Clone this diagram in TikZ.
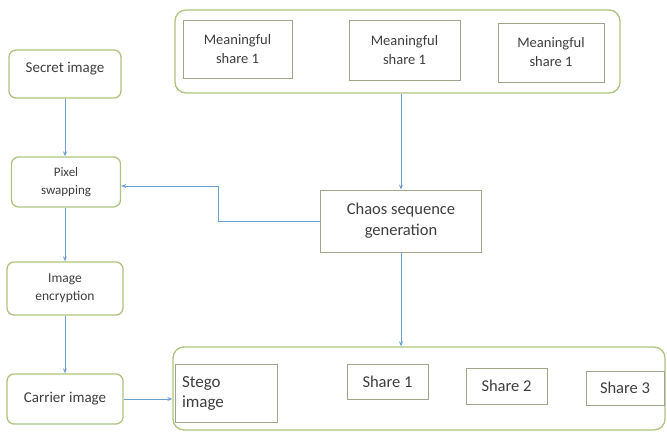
\documentclass[tikz,border=0pt]{standalone}
\usepackage{fontspec}
\setmainfont{Carlito}
\usetikzlibrary{arrows.meta}
\definecolor{boxgreen}{RGB}{172,196,128}
\definecolor{innergray}{RGB}{158,166,138}
\definecolor{arrowblue}{RGB}{110,158,210}
\definecolor{txtgray}{RGB}{62,62,62}
\begin{document}
\begin{tikzpicture}[
  x=1pt, y=-1pt,
  stepnode/.style={draw=boxgreen, line width=1.3pt, rounded corners=7pt, align=center,
    text=txtgray, inner sep=2pt},
  groupbox/.style={draw=boxgreen, line width=1.3pt, rounded corners=11pt},
  sharebox/.style={draw=innergray, line width=0.9pt, align=center, text=txtgray, inner sep=2pt},
  arr/.style={draw=arrowblue, line width=0.9pt, -{Stealth[length=5pt,width=4pt]}},
]
  \useasboundingbox (0,0) rectangle (667,432);

  \node[stepnode, minimum width=112pt, minimum height=48pt, font=\fontsize{15}{16}\selectfont] (secret) at (65, 74) {Secret image\\[-2pt]};
  \node[stepnode, minimum width=109pt, minimum height=50pt, font=\fontsize{13}{18}\selectfont] (pixel) at (66, 182) {Pixel\\swapping};
  \node[stepnode, minimum width=116pt, minimum height=53pt, font=\fontsize{13.5}{18}\selectfont] (enc) at (65, 288.5) {Image\\encryption};
  \node[stepnode, minimum width=116pt, minimum height=50pt, font=\fontsize{15}{16}\selectfont] (carrier) at (65, 399) {Carrier image};

  \node[groupbox, minimum width=445pt, minimum height=83pt] (topgrp) at (397.5, 51.5) {};
  \node[sharebox, minimum width=109pt, minimum height=58pt, font=\fontsize{14.5}{19}\selectfont] (ms1) at (237.5, 49) {Meaningful\\share 1};
  \node[sharebox, minimum width=111pt, minimum height=60pt, font=\fontsize{14.5}{19}\selectfont] (ms2) at (404.5, 50) {Meaningful\\share 1};
  \node[sharebox, minimum width=106pt, minimum height=59pt, font=\fontsize{14.5}{19}\selectfont] (ms3) at (551, 52.5) {Meaningful\\share 1};

  \node[sharebox, minimum width=161pt, minimum height=62pt, font=\fontsize{16.5}{21}\selectfont] (chaos) at (401, 221) {Chaos sequence\\generation};

  \node[groupbox, minimum width=492pt, minimum height=83pt] (botgrp) at (419, 388.5) {};
  \node[sharebox, minimum width=102pt, minimum height=58pt, align=left, text width=88pt, font=\fontsize{17}{20}\selectfont] (stego) at (226, 393) {Stego\\image};
  \node[sharebox, minimum width=81pt, minimum height=35pt, font=\fontsize{16.5}{18}\selectfont] (share1) at (387.5, 381.5) {Share 1};
  \node[sharebox, minimum width=81pt, minimum height=36pt, font=\fontsize{16.5}{18}\selectfont] (share2) at (506.5, 386) {Share 2};
  \node[sharebox, minimum width=78pt, minimum height=34pt, font=\fontsize{16.5}{18}\selectfont] (share3) at (625, 388) {Share 3};

  \draw[arr] (secret.south) -- (secret.south |- pixel.north);
  \draw[arr] (pixel.south -| enc.north) -- (enc.north);
  \draw[arr] (enc.south) -- (carrier.north);
  \draw[arr] (carrier.east) -- (carrier.east -| botgrp.west);
  \draw[arr] (chaos.north |- topgrp.south) -- (chaos.north);
  \draw[arr] (chaos.south) -- (chaos.south |- botgrp.north);
  \draw[arr] (chaos.west) -- ++(-102,0) |- ([yshift=-4pt]pixel.east);
\end{tikzpicture}
\end{document}
